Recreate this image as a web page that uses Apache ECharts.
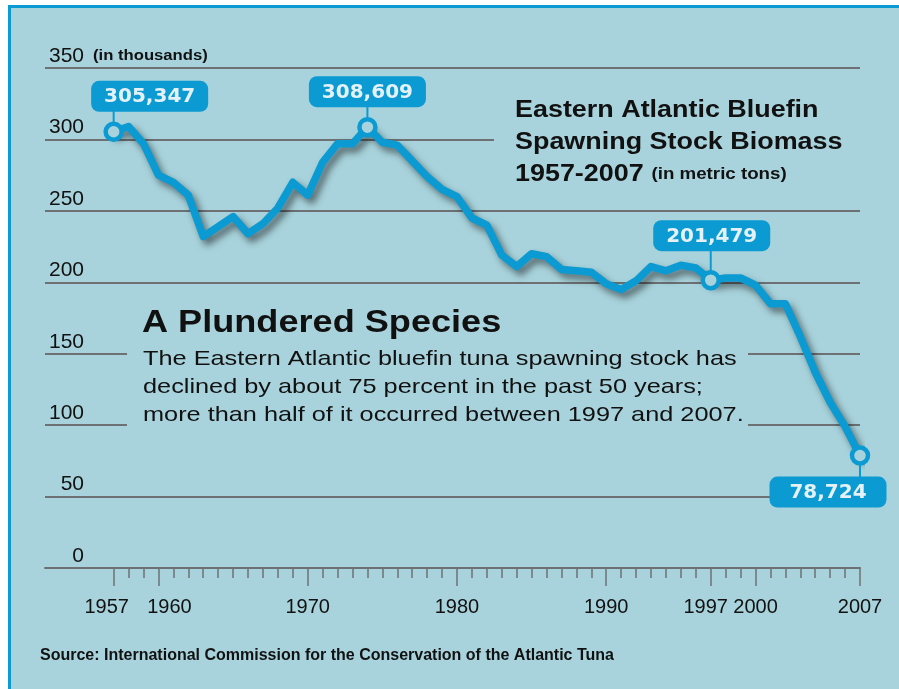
<!DOCTYPE html>
<html>
<head>
<meta charset="utf-8">
<script src="https://cdn.jsdelivr.net/npm/echarts@6/dist/echarts.min.js"></script>
<style>
  html, body { margin: 0; padding: 0; background: #ffffff; }
  #chart { width: 899px; height: 689px; }
</style>
</head>
<body>
<div id="chart"></div>
<script>
// ---- Data (thousands of metric tons) ----
const years = [1957,1958,1959,1960,1961,1962,1963,1964,1965,1966,1967,1968,1969,1970,1971,1972,1973,1974,1975,1976,1977,1978,1979,1980,1981,1982,1983,1984,1985,1986,1987,1988,1989,1990,1991,1992,1993,1994,1995,1996,1997,1998,1999,2000,2001,2002,2003,2004,2005,2006,2007];
const biomass = [305.347,309,297,275,270,261,232,239,246,234,241,252,270,261,284,297,297,308.609,298,296,285,274,265,260,245,240,219,211,220,218,209,208,207,199,195,201,211,208,212,210,201.479,203,203,198,185,185,162,137,116,99,78.724];
const labeledYears = [1957,1960,1970,1980,1990,1997,2000,2007];
const yTicks = [0,50,100,150,200,250,300,350];
const calloutYears = [1957,1974,1997,2007];
const calloutLabels = ['305,347','308,609','201,479','78,724'];

// ---- Style constants ----
const BG = '#a8d3dc';
const BLUE = '#0b9ad2';
const GRID = '#6d7173';
const FONT = "'Liberation Sans', Arial, Helvetica, sans-serif";

const lineData = years.map((y, i) => [y, biomass[i]]);
const calloutData = calloutYears.map(y => [y, biomass[years.indexOf(y)]]);
// callout layout: horizontal shift of box centre, vertical gap, placed below?
const calloutLayout = [
  { dx: 36, gap: 20, below: false },
  { dx: 0, gap: 20, below: false },
  { dx: 1, gap: 29, below: false },
  { dx: -32, gap: 21, below: true }
];

const chart = echarts.init(document.getElementById('chart'), null, { renderer: 'canvas' });

const labelRich = {
  l: { fontSize: 20, fontFamily: FONT, color: '#111', padding: [0, 14, 0, 0] },
  r: { fontSize: 20, fontFamily: FONT, color: '#111', padding: [0, 0, 0, 22] },
  m: { fontSize: 20, fontFamily: FONT, color: '#111', padding: [0, 10, 0, 0] }
};

const option = {
  backgroundColor: '#ffffff',
  animation: false,
  grid: { left: 45, right: 39, top: 68, bottom: 121, containLabel: false },
  xAxis: [
    {
      type: 'value', min: 1952.4, max: 2007,
      axisLine: { show: true, lineStyle: { color: GRID, width: 2 } },
      axisTick: { show: true, customValues: years, length: 10, lineStyle: { color: GRID, width: 1.5 } },
      axisLabel: { show: false },
      splitLine: { show: false }
    },
    {
      type: 'value', min: 1952.4, max: 2007, position: 'bottom',
      axisLine: { show: false },
      axisTick: { show: true, customValues: labeledYears, length: 18, lineStyle: { color: GRID, width: 1.5 } },
      axisLabel: {
        show: true, customValues: labeledYears, margin: 29,
        color: '#111', fontSize: 20, fontFamily: FONT,
        formatter: function (v) {
          if (v === 1957) return '{l|1957}';
          if (v === 1960) return '{r|1960}';
          if (v === 1997) return '{m|1997}';
          return String(v);
        },
        rich: labelRich
      },
      splitLine: { show: false }
    }
  ],
  yAxis: {
    type: 'value', min: 0, max: 350, interval: 50,
    axisLine: { show: false }, axisTick: { show: false },
    axisLabel: {
      inside: true, margin: 39, align: 'right', verticalAlign: 'bottom',
      fontSize: 21, fontFamily: FONT, color: '#111', lineHeight: 24
    },
    splitLine: { show: true, lineStyle: { color: GRID, width: 2 } }
  },
  graphic: [
    // panel border
    { type: 'rect', z: -10, silent: true,
      shape: { x: 9.5, y: 6.5, width: 900, height: 700 },
      style: { fill: BG, stroke: BLUE, lineWidth: 3 } },
    // cover for title block
    { type: 'rect', z: 50, silent: true,
      shape: { x: 494, y: 88, width: 370, height: 100 }, style: { fill: BG } },
    // cover for paragraph block
    { type: 'rect', z: 50, silent: true,
      shape: { x: 127, y: 300, width: 621, height: 133 }, style: { fill: BG } },
    { type: 'text', z: 60, silent: true, x: 93, y: 56, scaleX: 1.19,
      style: { text: '(in thousands)', font: 'bold 14px ' + FONT, fill: '#111', verticalAlign: 'middle' } },
    { type: 'text', z: 60, silent: true, x: 515, y: 95, scaleX: 1.17,
      style: {
        text: '{t|Eastern Atlantic Bluefin}\n{t|Spawning Stock Biomass}\n{t|1957-2007}  {s|(in metric tons)}',
        rich: {
          t: { font: 'bold 23px ' + FONT, fill: '#111', lineHeight: 32 },
          s: { font: 'bold 16px ' + FONT, fill: '#111', lineHeight: 32 }
        },
        verticalAlign: 'top'
      } },
    { type: 'text', z: 60, silent: true, x: 142, y: 323, scaleX: 1.165,
      style: { text: 'A Plundered Species', font: 'bold 31px ' + FONT, fill: '#111', verticalAlign: 'middle' } },
    { type: 'text', z: 60, silent: true, x: 143, y: 345, scaleX: 1.205,
      style: {
        text: 'The Eastern Atlantic bluefin tuna spawning stock has\ndeclined by about 75 percent in the past 50 years;\nmore than half of it occurred between 1997 and 2007.',
        font: '21px ' + FONT, fill: '#111', lineHeight: 28, verticalAlign: 'top'
      } },
    { type: 'text', z: 60, silent: true, x: 40, y: 656,
      style: { text: 'Source: International Commission for the Conservation of the Atlantic Tuna',
        font: 'bold 16px ' + FONT, fill: '#111', verticalAlign: 'middle' } }
  ],
  series: [
    {
      type: 'line', xAxisIndex: 0, data: lineData, symbol: 'none', z: 70,
      lineStyle: { color: BLUE, width: 7.5, join: 'round', cap: 'round',
        shadowColor: 'rgba(0,0,0,0.5)', shadowBlur: 7, shadowOffsetX: 4, shadowOffsetY: 5 }
    },
    {
      type: 'custom', xAxisIndex: 0, data: calloutData, z: 80,
      renderItem: function (params, api) {
        const i = params.dataIndex;
        const pt = api.coord([api.value(0), api.value(1)]);
        const c = calloutLayout[i];
        const w = 117, h = 31;
        const bx = pt[0] + c.dx - w / 2;
        const by = c.below ? pt[1] + c.gap : pt[1] - c.gap - h;
        return {
          type: 'group',
          children: [
            { type: 'line', shape: { x1: pt[0], y1: pt[1], x2: pt[0], y2: c.below ? by + 2 : by + h - 2 },
              style: { stroke: BLUE, lineWidth: 2 } },
            { type: 'rect', shape: { x: bx, y: by, width: w, height: h, r: 8 }, style: { fill: BLUE } },
            { type: 'text', style: { text: calloutLabels[i], x: bx + w / 2, y: by + h / 2 + 1,
                align: 'center', verticalAlign: 'middle',
                font: "bold 20px 'DejaVu Sans', " + FONT, fill: '#e4f2f7' } },
            { type: 'circle', shape: { cx: pt[0], cy: pt[1], r: 8 },
              style: { fill: BG, stroke: BLUE, lineWidth: 4.5 } }
          ]
        };
      }
    }
  ]
};
chart.setOption(option);
</script>
</body>
</html>
